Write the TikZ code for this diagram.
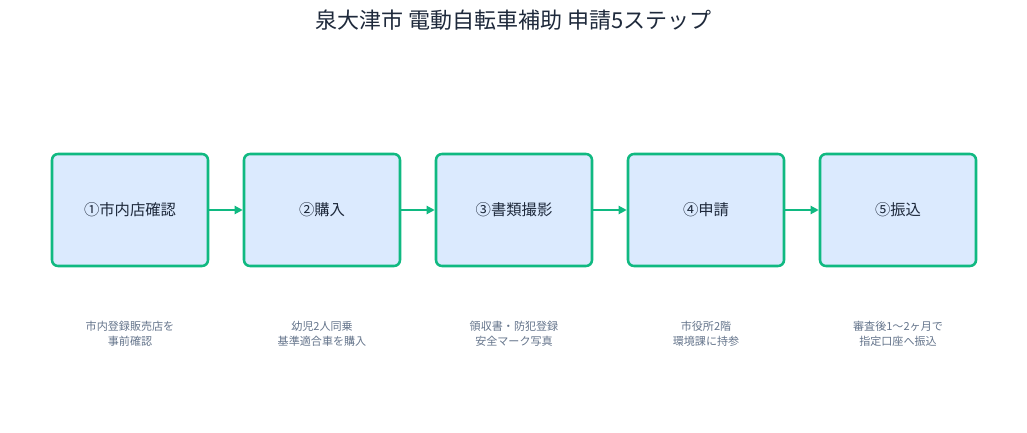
\documentclass[tikz,border=0pt]{standalone}
\usepackage{fontspec}
\setmainfont{Noto Sans CJK JP}
\usetikzlibrary{arrows.meta}
\definecolor{boxfill}{HTML}{DBEAFE}
\definecolor{boxline}{HTML}{10B981}
\definecolor{titlec}{HTML}{1E293B}
\definecolor{capc}{HTML}{64748B}
\begin{document}
\begin{tikzpicture}[x=0.75pt,y=-0.75pt,
  stepbox/.style={draw=boxline,fill=boxfill,line width=1.9pt,rounded corners=4.5pt,minimum width=117pt,minimum height=84pt,inner sep=0pt,font=\fontsize{11.5pt}{13pt}\selectfont,text=titlec},
  captext/.style={align=center,font=\fontsize{8.3pt}{11pt}\selectfont,text=capc},
  conn/.style={draw=boxline,line width=1.9pt,-{Triangle[length=6pt,width=6pt]}}]
\useasboundingbox (0,0) rectangle (1027,432);
\node[font=\fontsize{16.5pt}{19pt}\selectfont,text=titlec] (title) at (513.5,20) {泉大津市 電動自転車補助 申請5ステップ};
\node[stepbox] (s1) at (130,210) {①市内店確認};
\node[stepbox] (s2) at (322,210) {②購入};
\node[stepbox] (s3) at (514,210) {③書類撮影};
\node[stepbox] (s4) at (706,210) {④申請};
\node[stepbox] (s5) at (898,210) {⑤振込};
\draw[conn] (s1) -- (s2);
\draw[conn] (s2) -- (s3);
\draw[conn] (s3) -- (s4);
\draw[conn] (s4) -- (s5);
\node[captext] (c1) at (130,334) {市内登録販売店を\\事前確認};
\node[captext] (c2) at (322,334) {幼児2人同乗\\基準適合車を購入};
\node[captext] (c3) at (514,334) {領収書・防犯登録\\安全マーク写真};
\node[captext] (c4) at (706,334) {市役所2階\\環境課に持参};
\node[captext] (c5) at (898,334) {審査後1〜2ヶ月で\\指定口座へ振込};
\end{tikzpicture}
\end{document}
